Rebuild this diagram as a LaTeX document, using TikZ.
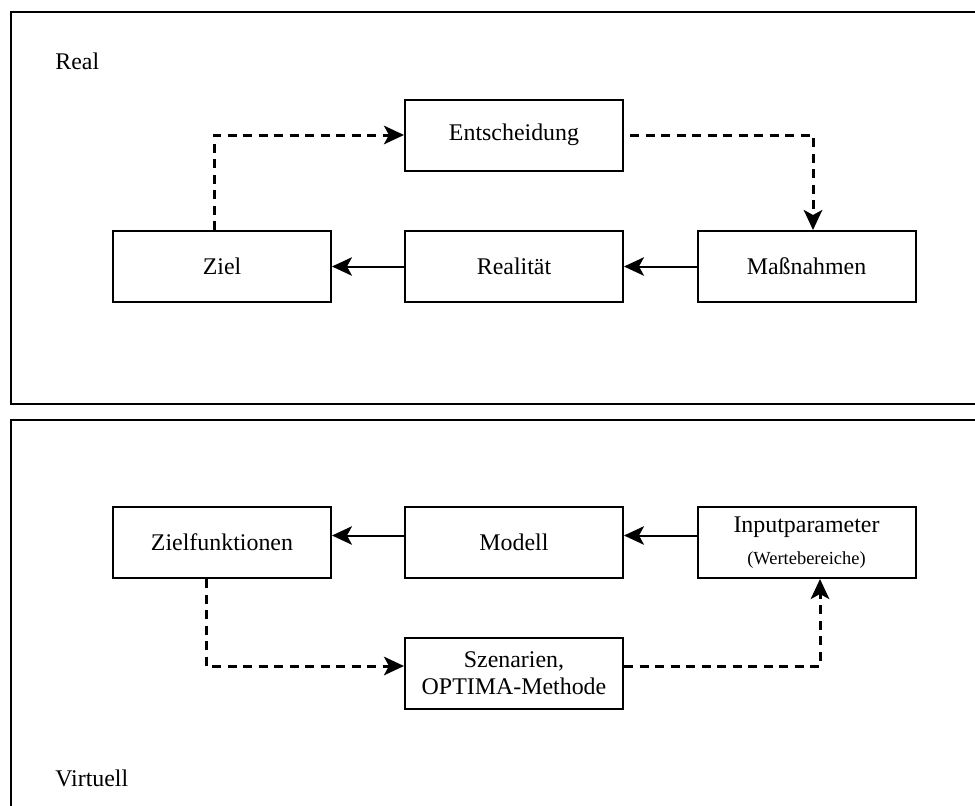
\documentclass[tikz,border=0pt]{standalone}
\usepackage{fontspec}
\setmainfont{Liberation Serif}
\usetikzlibrary{arrows.meta}

\tikzset{
    box/.style = {draw, line width=0.4mm, minimum width=43.6mm, minimum height=14.2mm,
                  align=center, inner sep=0pt},
    flow/.style = {-{Stealth[length=4mm, width=3.7mm, inset=1mm]}, line width=0.4mm},
    dflow/.style = {flow, line width=0.6mm, dash pattern=on 1.8mm off 1.3mm},
    panel/.style = {draw, line width=0.45mm}
}

\begin{document}
\begin{tikzpicture}[x=0.2mm, y=-0.2mm, font=\fontsize{13.6}{15.4}\selectfont]
    \clip (0,0) rectangle (975,806);

    \draw[panel] (990,12) -- (11,12) -- (11,404) -- (990,404);
    \draw[panel] (990,420) -- (11,420) -- (11,830);

    \node[anchor=west, inner sep=0pt] (real) at (55,61) {Real};
    \node[anchor=west, inner sep=0pt] (virtuell) at (55,778) {Virtuell};

    \node[box] (Entscheidung) at (514,135) {Entscheidung};
    \node[box] (Ziel) at (222,266.5) {Ziel};
    \node[box] (Realitaet) at (514,266.5) {Realität};
    \node[box] (Massnahmen) at (806.5,266.5) {Maßnahmen};

    \node[box] (Zielfunktionen) at (222,542.5) {Zielfunktionen};
    \node[box] (Modell) at (514,542.5) {Modell};
    \node[box] (Input) at (806.5,542.5) {Inputparameter\\[1mm]{\fontsize{10.5}{12}\selectfont (Wertebereiche)}};
    \node[box] (Szenarien) at (514,673.5) {Szenarien,\\OPTIMA-Methode};

    \draw[flow] (Realitaet) -- (Ziel);
    \draw[flow] (Massnahmen) -- (Realitaet);
    \draw[dflow] ([xshift=-1.6mm]Ziel.north) |- (Entscheidung.west);
    \draw[dflow] ([xshift=1.2mm]Entscheidung.east) -| ([xshift=1.3mm]Massnahmen.north);

    \draw[flow] ([yshift=1.4mm]Modell.west) -- ([yshift=1.4mm]Zielfunktionen.east);
    \draw[flow] ([yshift=1.4mm]Input.west) -- ([yshift=1.4mm]Modell.east);
    \draw[dflow] ([xshift=-3.2mm]Zielfunktionen.south) |- ([yshift=1.5mm]Szenarien.west);
    \draw[dflow] ([yshift=1.5mm]Szenarien.east) -| ([xshift=2.7mm]Input.south);
\end{tikzpicture}
\end{document}
